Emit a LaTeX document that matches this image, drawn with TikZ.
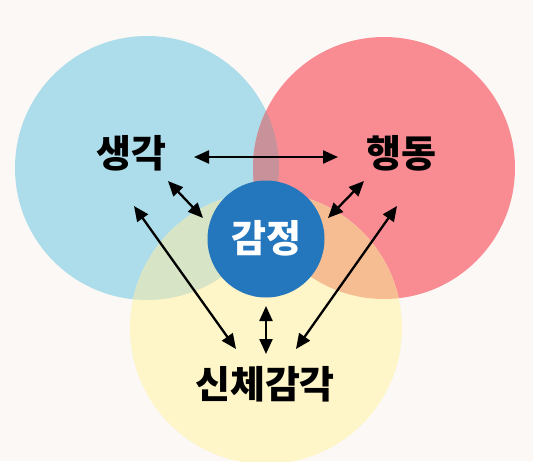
\documentclass[tikz,border=0pt]{standalone}
\usepackage{fontspec}
\setmainfont{Noto Sans CJK KR}
\usetikzlibrary{arrows.meta}
\definecolor{bgc}{HTML}{FBF8F5}
\definecolor{cblue}{HTML}{ADDDEA}
\definecolor{cred}{HTML}{F98C93}
\definecolor{cyel}{HTML}{FEF5C8}
\definecolor{cbr}{HTML}{C9929A}
\definecolor{cby}{HTML}{D7E4C5}
\definecolor{cry}{HTML}{F6BD93}
\definecolor{cbry}{HTML}{D9AE9C}
\definecolor{cdark}{HTML}{2477BD}
\tikzset{
  lbl/.style={font=\bfseries\fontsize{38}{40}\selectfont, text=black, inner sep=0pt},
  biarrow/.style={{Triangle[length=15pt,width=13pt]}-{Triangle[length=15pt,width=13pt]}, line width=2.3pt, black},
}
\begin{document}
\begin{tikzpicture}[x=1pt,y=-1pt]
\fill[bgc] (0,0) rectangle (533,461);
\useasboundingbox (0,0) rectangle (533,461);
% circles
\fill[cblue] (147,168) circle (132);
\fill[cred] (384,168) circle (131);
\fill[cyel] (266,328) circle (136);
\begin{scope}
  \clip (147,168) circle (132);
  \fill[cbr] (384,168) circle (131);
  \fill[cby] (266,328) circle (136);
  \clip (384,168) circle (131);
  \fill[cbry] (266,328) circle (136);
\end{scope}
\begin{scope}
  \clip (384,168) circle (131);
  \fill[cry] (266,328) circle (136);
  \clip (147,168) circle (132);
  \fill[cbry] (266,328) circle (136);
\end{scope}
\node[circle, fill=cdark, minimum size=117pt, inner sep=0pt] (emo) at (266,239) {};
\node[lbl, text=white] (emot) at (266,238) {감정};
\node[lbl] (th) at (131,153) {생각};
\node[lbl] (ac) at (401,153) {행동};
\node[lbl] (bo) at (265,384) {신체감각};
% arrow end points
\coordinate (h1) at (194,157);
\coordinate (h2) at (338,157);
\coordinate (a1) at (168,181);
\coordinate (a2) at (203,218);
\coordinate (b1) at (364,181);
\coordinate (b2) at (328,218);
\coordinate (c1) at (134,206);
\coordinate (c2) at (236,349);
\coordinate (d1) at (397,206);
\coordinate (d2) at (296,349);
\coordinate (e1) at (266,306);
\coordinate (e2) at (266,354);
\draw[biarrow] (h1) -- (h2);
\draw[biarrow] (a1) -- (a2);
\draw[biarrow] (b1) -- (b2);
\draw[biarrow] (c1) -- (c2);
\draw[biarrow] (d1) -- (d2);
\draw[biarrow] (e1) -- (e2);
\end{tikzpicture}
\end{document}
